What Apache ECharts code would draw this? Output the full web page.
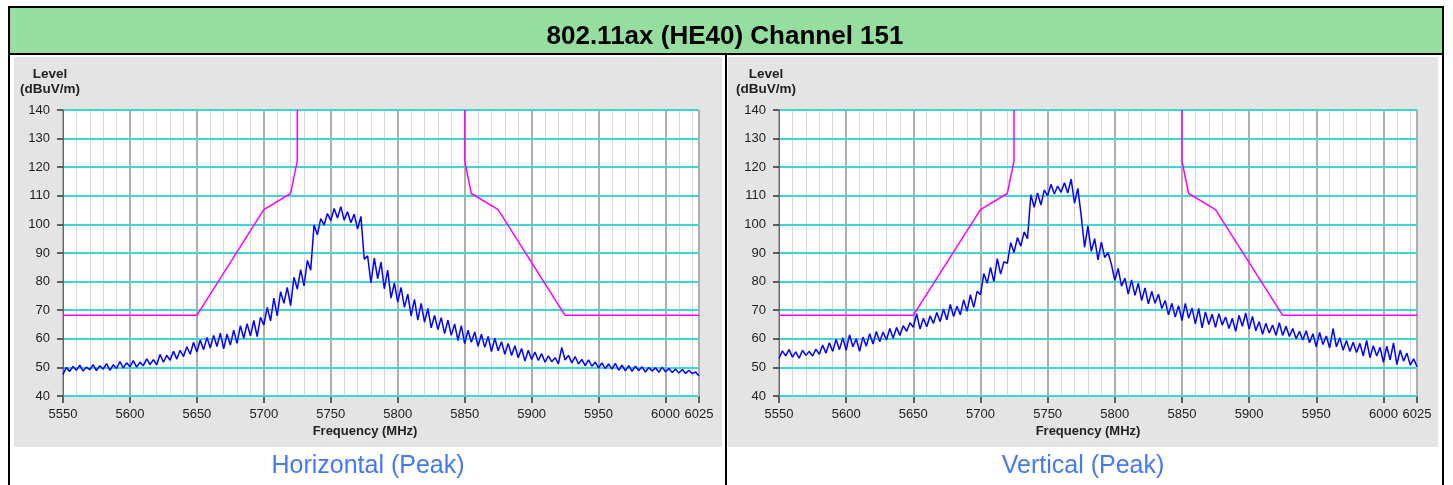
<!DOCTYPE html>
<html>
<head>
<meta charset="utf-8">
<title>802.11ax (HE40) Channel 151</title>
<script src="https://cdn.jsdelivr.net/npm/echarts@6/dist/echarts.min.js"></script>
<style>
  html, body { margin: 0; padding: 0; background: #fff; }
  #chart { width: 1453px; height: 485px; }
</style>
</head>
<body>
<div id="chart"></div>
<script>
// sweep grid of the analyzer trace
const F_START = 5550;
const F_STEP = 2.5;

// Horizontal (Peak) trace, dBuV/m, one row = 25 MHz
const levelH = [
  47.5, 50.0, 48.6, 50.3, 49.0, 50.8, 48.7, 50.1, 49.2, 51.0,
  48.9, 50.6, 49.4, 51.3, 49.0, 50.9, 49.6, 52.0, 49.8, 51.6,
  50.2, 52.4, 50.1, 51.8, 50.6, 53.0, 51.0, 52.7, 50.9, 54.5,
  51.8, 54.2, 52.5, 55.6, 52.9, 56.0, 53.8, 57.2, 54.6, 58.8,
  55.4, 59.6, 56.2, 60.5, 56.8, 61.2, 57.3, 62.0, 56.5, 61.6,
  57.8, 63.0, 58.4, 64.6, 60.2, 65.3, 61.0, 66.4, 60.8, 67.5,
  64.8, 71.0, 66.3, 74.2, 68.0, 76.5, 72.4, 78.0, 71.6, 81.5,
  77.4, 84.2, 78.5, 87.4, 84.0, 99.8, 96.4, 102.0, 99.8, 103.8,
  101.3, 105.6, 102.2, 106.2, 101.5, 104.4, 100.6, 103.6, 98.4, 102.8,
  87.8, 89.0, 79.5, 88.2, 81.0, 86.8, 77.5, 84.0, 74.2, 79.5,
  72.8, 78.0, 71.0, 75.6, 68.0, 73.8, 66.5, 72.4, 65.8, 70.6,
  63.8, 68.2, 63.2, 67.4, 61.8, 66.5, 61.2, 65.2, 59.4, 64.6,
  58.3, 63.0, 58.8, 62.4, 57.4, 61.6, 57.0, 60.8, 55.5, 60.2,
  55.8, 59.0, 54.6, 58.4, 54.2, 57.6, 53.4, 56.6, 52.2, 56.0,
  52.8, 55.4, 52.4, 54.8, 51.8, 54.0, 52.0, 53.4, 51.2, 57.0,
  52.6, 54.2, 51.6, 53.8, 51.2, 52.8, 50.6, 52.6, 50.4, 51.8,
  49.8, 51.6, 49.6, 51.2, 49.4, 51.4, 49.0, 50.8, 48.8, 50.6,
  48.6, 50.4, 48.9, 50.2, 48.4, 50.0, 48.7, 49.9, 48.3, 50.1,
  48.5, 49.6, 48.2, 49.4, 48.0, 49.3, 47.9, 49.0, 47.8, 48.4,
  47.0
];

// Vertical (Peak) trace
const levelV = [
  53.0, 55.8, 54.0, 56.2, 53.6, 55.4, 53.2, 56.0, 54.2, 55.6,
  54.0, 56.4, 54.6, 57.8, 55.0, 58.6, 55.6, 59.8, 56.2, 60.4,
  56.0, 61.4, 57.2, 60.0, 55.6, 60.6, 57.4, 61.8, 58.2, 62.6,
  59.0, 62.4, 59.6, 63.6, 60.2, 64.0, 61.2, 64.6, 62.6, 65.6,
  64.0, 68.8, 63.4, 67.2, 64.2, 68.0, 65.4, 69.2, 66.0, 70.4,
  66.6, 72.0, 67.8, 71.4, 68.4, 73.6, 69.6, 75.4, 71.0, 76.6,
  75.4, 82.8, 79.4, 85.0, 80.0, 88.0, 82.6, 87.0, 86.4, 93.6,
  90.2, 95.4, 92.4, 97.4, 95.0, 110.4, 106.0, 111.0, 106.8, 112.0,
  110.0, 114.0, 110.6, 113.4, 111.2, 114.6, 111.0, 115.8, 107.4, 112.6,
  103.0, 92.0, 99.4, 90.6, 95.0, 87.6, 93.8, 88.4, 90.2, 86.0,
  80.4, 84.6, 78.4, 81.2, 75.6, 80.6, 75.2, 79.4, 73.4, 77.8,
  72.2, 76.6, 72.4, 75.6, 70.6, 73.4, 68.4, 72.4, 67.6, 71.6,
  66.4, 72.4, 67.2, 70.8, 65.2, 70.6, 63.8, 69.4, 65.0, 68.6,
  64.0, 68.8, 64.8, 67.6, 63.6, 67.2, 62.6, 68.2, 64.4, 69.0,
  63.4, 67.8, 62.8, 66.0, 61.6, 65.4, 62.0, 64.8, 61.2, 65.6,
  61.2, 64.4, 60.8, 63.6, 60.0, 62.6, 59.6, 62.8, 58.6, 61.8,
  57.2, 62.2, 58.0, 61.0, 56.8, 63.6, 57.2, 60.4, 56.0, 59.4,
  55.6, 58.8, 55.2, 58.4, 54.0, 59.4, 53.4, 57.6, 54.0, 57.0,
  51.8, 57.4, 52.6, 58.6, 51.0, 56.0, 52.2, 55.0, 50.8, 53.0,
  50.2
];

// limit line (restricted band mask)
const maskLowFreq = [5550, 5650, 5700, 5720, 5725, 5725];
const maskLowLevel = [68.2, 68.2, 105.2, 110.8, 122.2, 140];
const maskHighFreq = [5850, 5850, 5855, 5875, 5925, 6025];
const maskHighLevel = [140, 122.2, 110.8, 105.2, 68.2, 68.2];

const captions = ['Horizontal (Peak)', 'Vertical (Peak)'];
const traces = [levelH, levelV];

const FONT = 'Arial, "Liberation Sans", sans-serif';

// panel geometry
const panels = [
  { bgX: 14, bgW: 708, plotX: 63, plotW: 636, nameX: 50, freqX: 365, capX: 368 },
  { bgX: 728, bgW: 710, plotX: 779, plotW: 638, nameX: 766, freqX: 1088, capX: 1083 }
];
const PLOT_TOP = 110, PLOT_H = 286;

const toPairs = (levels) => levels.map((v, i) => [F_START + i * F_STEP, v]);
const zip = (xs, ys) => xs.map((x, i) => [x, ys[i]]);

const chart = echarts.init(document.getElementById('chart'), null, { renderer: 'canvas' });

const grid = [], xAxis = [], yAxis = [], series = [], title = [];
const graphicEls = [
  // outer frame + header
  { type: 'rect', shape: { x: 9, y: 7, width: 1434, height: 600 }, style: { fill: '#fff', stroke: '#000', lineWidth: 2 }, z: 0 },
  { type: 'rect', shape: { x: 10, y: 8, width: 1432, height: 45 }, style: { fill: '#96de9f' }, z: 0 },
  { type: 'line', shape: { x1: 9, y1: 54, x2: 1443, y2: 54 }, style: { stroke: '#000', lineWidth: 2 }, z: 0 },
  { type: 'line', shape: { x1: 726, y1: 54, x2: 726, y2: 490 }, style: { stroke: '#000', lineWidth: 2 }, z: 0 }
];

title.push({
  text: '802.11ax (HE40) Channel 151',
  left: 725, top: 24, textAlign: 'center', padding: 0,
  textStyle: { fontFamily: FONT, fontSize: 26, fontWeight: 'bold', color: '#000' }
});

panels.forEach((p, i) => {
  graphicEls.push(
    { type: 'rect', shape: { x: p.bgX, y: 57, width: p.bgW, height: 390 }, style: { fill: '#e4e4e4' }, z: 0 },
    { type: 'rect', shape: { x: p.plotX, y: PLOT_TOP, width: p.plotW, height: PLOT_H }, style: { fill: '#fff', stroke: '#9a9a9a', lineWidth: 1 }, z: 0 }
  );

  grid.push({ left: p.plotX, top: PLOT_TOP, width: p.plotW, height: PLOT_H, show: false });

  // minor vertical grid, every 10 MHz
  xAxis.push({
    type: 'value', gridIndex: i, position: 'bottom', min: 5550, max: 6025, interval: 10, z: 1,
    axisLine: { show: false }, axisTick: { show: false }, axisLabel: { show: false },
    splitLine: { show: true, lineStyle: { color: '#d6d6d6', width: 1 } }
  });
  // major axis, every 50 MHz
  xAxis.push({
    type: 'value', gridIndex: i, position: 'bottom', min: 5550, max: 6025, interval: 50, z: 2,
    axisLine: { show: true, onZero: false, lineStyle: { color: '#666', width: 1 } },
    axisTick: { show: true, length: 7, lineStyle: { color: '#333', width: 1.5 } },
    axisLabel: { fontFamily: FONT, fontSize: 13, color: '#222', margin: 12, formatter: (v) => String(v) },
    splitLine: { show: true, lineStyle: { color: '#aeaeae', width: 2 } }
  });
  yAxis.push({
    type: 'value', gridIndex: i, position: 'left', min: 40, max: 140, interval: 10, z: 3,
    axisLine: { show: true, onZero: false, lineStyle: { color: '#666', width: 1 } },
    axisTick: { show: true, length: 6, lineStyle: { color: '#333', width: 1.5 } },
    axisLabel: { fontFamily: FONT, fontSize: 13, color: '#222', margin: 13 },
    splitLine: { show: true, lineStyle: { color: '#3dd5d5', width: 2 } }
  });

  const xi = i * 2 + 1;
  series.push(
    {
      type: 'line', xAxisIndex: xi, yAxisIndex: i, z: 4, data: toPairs(traces[i]),
      showSymbol: false, silent: true, lineStyle: { color: '#0000ff', width: 1.5 }
    },
    {
      type: 'line', xAxisIndex: xi, yAxisIndex: i, z: 4, data: zip(maskLowFreq, maskLowLevel),
      showSymbol: false, silent: true, lineStyle: { color: '#ff00ff', width: 1.5 }
    },
    {
      type: 'line', xAxisIndex: xi, yAxisIndex: i, z: 4, data: zip(maskHighFreq, maskHighLevel),
      showSymbol: false, silent: true, lineStyle: { color: '#ff00ff', width: 1.5 }
    }
  );

  title.push(
    {
      text: 'Level\n(dBuV/m)', left: p.nameX, top: 67, textAlign: 'center', padding: 0,
      textStyle: { fontFamily: FONT, fontSize: 13.5, fontWeight: 'bold', color: '#222', lineHeight: 15, align: 'center' }
    },
    {
      text: 'Frequency (MHz)', left: p.freqX, top: 425, textAlign: 'center', padding: 0,
      textStyle: { fontFamily: FONT, fontSize: 13, fontWeight: 'bold', color: '#222' }
    },
    {
      text: captions[i], left: p.capX, top: 454, textAlign: 'center', padding: 0,
      textStyle: { fontFamily: FONT, fontSize: 25, fontWeight: 'normal', color: '#4479f0' }
    }
  );
});

chart.setOption({
  animation: false,
  backgroundColor: '#fff',
  graphic: { elements: graphicEls },
  title, grid, xAxis, yAxis, series
});
</script>
</body>
</html>
